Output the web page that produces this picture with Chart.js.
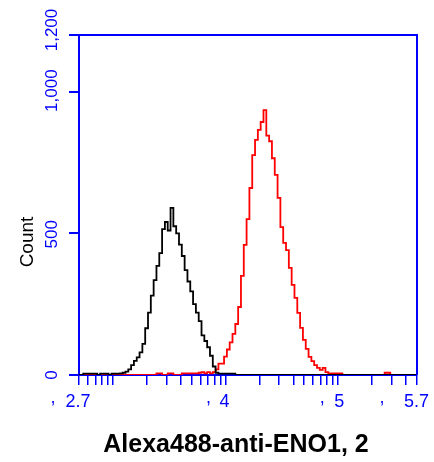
<!DOCTYPE html>
<html>
<head>
<meta charset="utf-8">
<script src="https://cdn.jsdelivr.net/npm/chart.js@4/dist/chart.umd.min.js"></script>
<style>
  html, body { margin: 0; padding: 0; background: #ffffff; }
  #wrap { width: 434px; height: 462px; }
</style>
</head>
<body>
<div id="wrap"><canvas id="c" width="434" height="462"></canvas></div>
<script>
// ---------------- DATA ----------------
// Histogram bin centres, in log10 of the fluorescence channel
const binLog = [
  2.700, 2.725, 2.750, 2.775, 2.800, 2.825, 2.850, 2.875, 2.900, 2.925,
  2.950, 2.975, 3.000, 3.025, 3.050, 3.075, 3.100, 3.125, 3.150, 3.175,
  3.200, 3.225, 3.250, 3.275, 3.300, 3.325, 3.350, 3.375, 3.400, 3.425,
  3.450, 3.475, 3.500, 3.525, 3.550, 3.575, 3.600, 3.625, 3.650, 3.675,
  3.700, 3.725, 3.750, 3.775, 3.800, 3.825, 3.850, 3.875, 3.900, 3.925,
  3.950, 3.975, 4.000, 4.025, 4.050, 4.075, 4.100, 4.125, 4.150, 4.175,
  4.200, 4.225, 4.250, 4.275, 4.300, 4.325, 4.350, 4.375, 4.400, 4.425,
  4.450, 4.475, 4.500, 4.525, 4.550, 4.575, 4.600, 4.625, 4.650, 4.675,
  4.700, 4.725, 4.750, 4.775, 4.800, 4.825, 4.850, 4.875, 4.900, 4.925,
  4.950, 4.975, 5.000, 5.025, 5.050, 5.075, 5.100, 5.125, 5.150, 5.175,
  5.200, 5.225, 5.250, 5.275, 5.300, 5.325, 5.350, 5.375, 5.400, 5.425,
  5.450, 5.475, 5.500, 5.525, 5.550, 5.575, 5.600, 5.625, 5.650, 5.675,
  5.700
];

// Control (black) counts
const controlCounts = [
  0, 0, 5, 5, 5, 5, 5, 0, 5, 5,
  5, 0, 5, 5, 5, 6, 8, 12, 20, 35,
  50, 62, 80, 110, 165, 220, 280, 335, 385, 430,
  515, 540, 510, 590, 525, 500, 460, 420, 370, 330,
  295, 250, 220, 190, 140, 120, 98, 68, 30, 8,
  5, 5, 5, 5, 5, 5, 0, 0, 0, 0,
  0, 0, 0, 0, 0, 0, 0, 0, 0, 0,
  0, 0, 0, 0, 0, 0, 0, 0, 0, 0,
  0, 0, 0, 0, 0, 0, 0, 0, 0, 0,
  0, 0, 0, 0, 0, 0, 0, 0, 0, 0,
  0, 0, 0, 0, 0, 0, 0, 0, 0, 0,
  0, 0, 0, 0, 0, 0, 0, 0, 0, 0,
  0
];

// Alexa488-anti-ENO1 (red) counts
const enoCounts = [
  0, 0, 0, 0, 0, 0, 0, 0, 0, 0,
  0, 0, 0, 0, 0, 0, 0, 0, 0, 0,
  0, 0, 0, 0, 0, 0, 0, 0, 6, 6,
  0, 0, 6, 6, 0, 0, 0, 6, 6, 6,
  6, 6, 6, 8, 10, 6, 10, 6, 10, 20,
  40, 40, 65, 90, 115, 145, 180, 240, 350, 459,
  550, 660, 776, 830, 865, 893, 935, 845, 825, 765,
  706, 625, 522, 466, 441, 378, 318, 272, 219, 166,
  124, 92, 64, 49, 35, 25, 18, 25, 10, 6,
  6, 6, 6, 6, 0, 0, 0, 0, 0, 0,
  0, 0, 0, 0, 0, 0, 0, 0, 0, 8,
  8, 0, 0, 0, 0, 0, 0, 0, 0, 0,
  0
];

// Axis ticks
const xTickValues = [
  501.19, 600, 700, 800, 900, 1000,
  2000, 3000, 4000, 5000, 6000, 7000, 8000, 9000, 10000,
  20000, 30000, 40000, 50000, 60000, 70000, 80000, 90000, 100000,
  200000, 300000, 400000, 501187
];
const xLabelValues = [501.19, 10000, 100000, 501187];
const xLabelTexts = ['2.7', '4', '5', '5.7'];

const yTickValues = [0, 500, 1000, 1200];
const yTickTexts = ['0', '500', '1,000', '1,200'];

const xTitle = 'Alexa488-anti-ENO1, 2';
const yTitle = 'Count';

// ---------------- STYLE ----------------
const BLUE = '#0000ff';
const FONT = '"Liberation Sans", Arial, Helvetica, sans-serif';
// label placement tweaks (px)
const xLabelShift = [-1, -1, 1, 0];
const xLabelAlign = ['center', 'center', 'center', 'right'];
const xLabelAnchorFix = [0, 0, 0, 12];
const xCommaOffset = [-26, -17, -16, -35];
const yLabelShift = [0, 1, -1, -5];

function toPoints(counts) {
  return binLog.map((b, i) => ({ x: Math.pow(10, b), y: counts[i] }));
}

const decorations = {
  id: 'decorations',
  afterDraw(chart) {
    const ctx = chart.ctx;
    const xs = chart.scales.x, ys = chart.scales.y, ca = chart.chartArea;
    ctx.save();
    // top and right frame lines
    ctx.strokeStyle = BLUE;
    ctx.lineWidth = 2;
    ctx.beginPath();
    ctx.moveTo(ca.left, ca.top);
    ctx.lineTo(ca.right, ca.top);
    ctx.lineTo(ca.right, ca.bottom);
    ctx.stroke();

    // y tick labels (rotated, reading bottom to top)
    ctx.fillStyle = BLUE;
    ctx.font = '17px ' + FONT;
    ctx.textAlign = 'center';
    ctx.textBaseline = 'middle';
    yTickValues.forEach((v, i) => {
      const py = ys.getPixelForValue(v) + yLabelShift[i];
      ctx.save();
      ctx.translate(52, py);
      ctx.rotate(-Math.PI / 2);
      ctx.fillText(yTickTexts[i], 0, 0);
      ctx.restore();
    });

    // x tick labels
    ctx.font = '18px ' + FONT;
    ctx.textBaseline = 'alphabetic';
    xLabelValues.forEach((v, i) => {
      const px = xs.getPixelForValue(v);
      ctx.textAlign = xLabelAlign[i];
      ctx.fillText(xLabelTexts[i], px + xLabelShift[i] + xLabelAnchorFix[i], 407);
      ctx.textAlign = 'center';
      ctx.fillText(',', px + xCommaOffset[i], 403);
    });

    // y title
    ctx.fillStyle = '#000000';
    ctx.font = '19px ' + FONT;
    ctx.save();
    ctx.translate(33, 242);
    ctx.rotate(-Math.PI / 2);
    ctx.textAlign = 'center';
    ctx.textBaseline = 'alphabetic';
    ctx.fillText(yTitle, 0, 0);
    ctx.restore();

    // x title
    ctx.font = 'bold 25px ' + FONT;
    ctx.textAlign = 'center';
    ctx.textBaseline = 'alphabetic';
    ctx.fillText(xTitle, 236, 452);
    ctx.restore();
  }
};

new Chart(document.getElementById('c'), {
  type: 'line',
  data: {
    datasets: [
      {
        label: 'Control',
        data: toPoints(controlCounts),
        borderColor: '#000000',
        borderWidth: 1.8,
        stepped: 'middle',
        pointRadius: 0,
        fill: false
      },
      {
        label: 'Alexa488-anti-ENO1',
        data: toPoints(enoCounts),
        borderColor: '#ff0000',
        borderWidth: 1.8,
        stepped: 'middle',
        pointRadius: 0,
        fill: false
      }
    ]
  },
  options: {
    responsive: false,
    animation: false,
    devicePixelRatio: 1,
    layout: { padding: { top: 35, right: 17, left: 0, bottom: 0 } },
    plugins: {
      legend: { display: false },
      tooltip: { enabled: false },
      title: { display: false }
    },
    scales: {
      x: {
        type: 'logarithmic',
        position: 'bottom',
        min: Math.pow(10, 2.7),
        max: Math.pow(10, 5.7),
        z: 1,
        afterBuildTicks: (scale) => { scale.ticks = xTickValues.map(v => ({ value: v })); },
        afterFit: (scale) => { scale.height = 87; },
        ticks: { display: false },
        grid: {
          display: true,
          drawOnChartArea: false,
          drawTicks: true,
          tickLength: 10,
          color: BLUE,
          lineWidth: 1.5
        },
        border: { display: true, color: BLUE, width: 2 }
      },
      y: {
        type: 'linear',
        position: 'left',
        min: 0,
        max: 1200,
        z: 1,
        afterBuildTicks: (scale) => { scale.ticks = yTickValues.map(v => ({ value: v })); },
        afterFit: (scale) => { scale.width = 79; },
        ticks: { display: false },
        grid: {
          display: true,
          drawOnChartArea: false,
          drawTicks: true,
          tickLength: 10,
          color: BLUE,
          lineWidth: 2
        },
        border: { display: true, color: BLUE, width: 2 }
      }
    }
  },
  plugins: [decorations]
});
</script>
</body>
</html>
